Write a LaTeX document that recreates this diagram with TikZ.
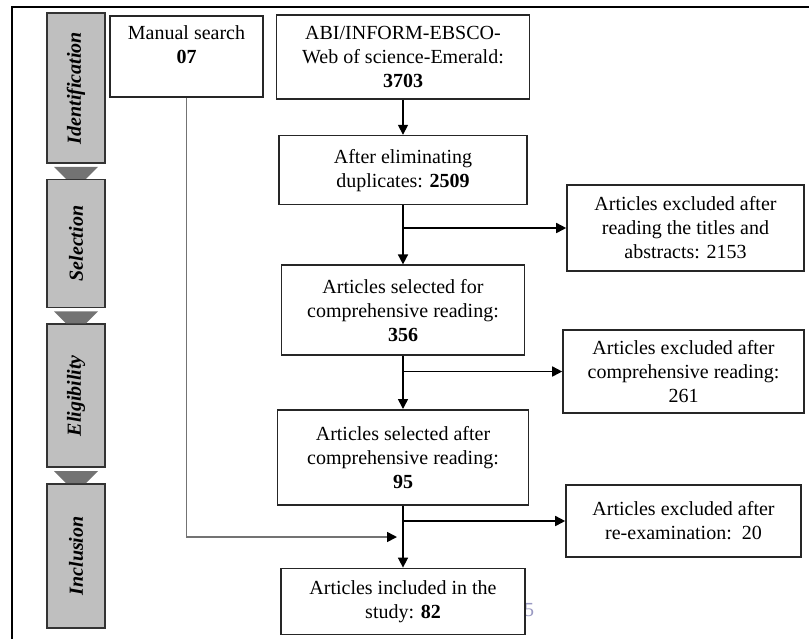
\documentclass[tikz,border=0pt]{standalone}
\usepackage{fontspec}
\setmainfont{Liberation Serif}
\usetikzlibrary{positioning,arrows.meta}

\begin{document}
\begin{tikzpicture}[x=0.5pt,y=-0.5pt,
	stage/.style={ % box of one step
		draw=black!85, line width=0.8pt, fill=white, align=center,
		inner sep=2pt, font=\fontsize{10}{12}\selectfont
	},
	phase/.style={ % grey bar of one phase
		draw=black!80, line width=0.8pt, fill=black!25,
		minimum width=29pt, inner sep=0pt,
		font=\fontsize{10}{12}\selectfont\bfseries\itshape
	},
	phasearrow/.style={fill=black!55},
	flow/.style={line width=0.8pt, -{Triangle[length=5pt,width=5pt]}},
	manline/.style={draw=black!55, line width=0.8pt,
		-{Triangle[length=5pt,width=5pt,color=black]}}
]
	\useasboundingbox (0,0) rectangle (809,639);
	%% frame
	\draw[line width=1.3pt] (809,7) -- (12,7) -- (12,639);

	%% phases
	\node[phase,minimum height=75pt] (ph1) at (76,88) {\rotatebox{90}{Identification}};
	\node[phase,minimum height=64pt,below=7.5pt of ph1] (ph2) {\rotatebox{90}{Selection}};
	\node[phase,minimum height=71.5pt,below=7.5pt of ph2] (ph3) {\rotatebox{90}{Eligibility}};
	\node[phase,minimum height=72pt,below=7.5pt of ph3] (ph4) {\rotatebox{90}{Inclusion}};
	% grey arrows between phases
	\fill[phasearrow] ([xshift=-11pt,yshift=-1.5pt]ph1.south) -- ([xshift=11pt,yshift=-1.5pt]ph1.south)
		-- ([xshift=5pt]ph2.north) -- ([xshift=-5pt]ph2.north) -- cycle;
	\fill[phasearrow] ([xshift=-11pt,yshift=-1.5pt]ph2.south) -- ([xshift=11pt,yshift=-1.5pt]ph2.south)
		-- ([xshift=5pt]ph3.north) -- ([xshift=-5pt]ph3.north) -- cycle;
	\fill[phasearrow] ([xshift=-11pt,yshift=-1.5pt]ph3.south) -- ([xshift=11pt,yshift=-1.5pt]ph3.south)
		-- ([xshift=5pt]ph4.north) -- ([xshift=-5pt]ph4.north) -- cycle;

	%% manual search
	\node[stage,minimum width=76.5pt,minimum height=40.5pt] (m1) at (186.5,56.5)
		{Manual search\\\textbf{07}\\\mbox{}};

	%% main column
	\node[stage,minimum width=126.5pt,minimum height=42pt] (b1) at (403,57)
		{ABI/INFORM-EBSCO-\\Web of science-Emerald:\\\textbf{3703}};
	\node[stage,minimum width=124pt,minimum height=34.5pt,below=17.5pt of b1] (b2)
		{After eliminating\\duplicates: \textbf{2509}};
	\node[stage,minimum width=121.5pt,minimum height=45pt,below=29.5pt of b2] (b3)
		{Articles selected for\\comprehensive reading:\\\textbf{356}};
	\node[stage,minimum width=125.5pt,minimum height=47.5pt,below=26.5pt of b3] (b4)
		{Articles selected after\\comprehensive reading:\\\textbf{95}};
	\node[text=blue!40!black!40,font=\fontsize{10}{12}\selectfont] (pg) at (529,610) {5};
	\node[stage,minimum width=122pt,minimum height=33pt,below=31pt of b4] (b5)
		{Articles included in the\\study: \textbf{82}};

	%% excluded articles
	\node[stage,minimum width=118.5pt,minimum height=43pt] (ex1) at (685.5,228)
		{Articles excluded after\\reading the titles and\\abstracts: 2153};
	\node[stage,minimum width=120.5pt,minimum height=41.5pt] (ex2) at (683.5,371.5)
		{Articles excluded after\\comprehensive reading:\\261};
	\node[stage,minimum width=117.5pt,minimum height=36pt] (ex3) at (683.5,521)
		{Articles excluded after\\re-examination:~~20};

	% connectors
	\draw[flow] (b1) -- (b2);
	\draw[flow] (b2) -- (b3);
	\draw[flow] (b3) -- (b4);
	\draw[flow] (b4) -- (b5);
	\draw[flow] (b2.south |- ex1.west) -- (ex1.west);
	\draw[flow] (b3.south |- ex2.west) -- (ex2.west);
	\draw[flow] (b4.south |- ex3.west) -- (ex3.west);
	% manual search joins before inclusion
	\coordinate (mj) at (397,537);
	\draw[manline] (m1.south) |- (mj);
\end{tikzpicture}
\end{document}
